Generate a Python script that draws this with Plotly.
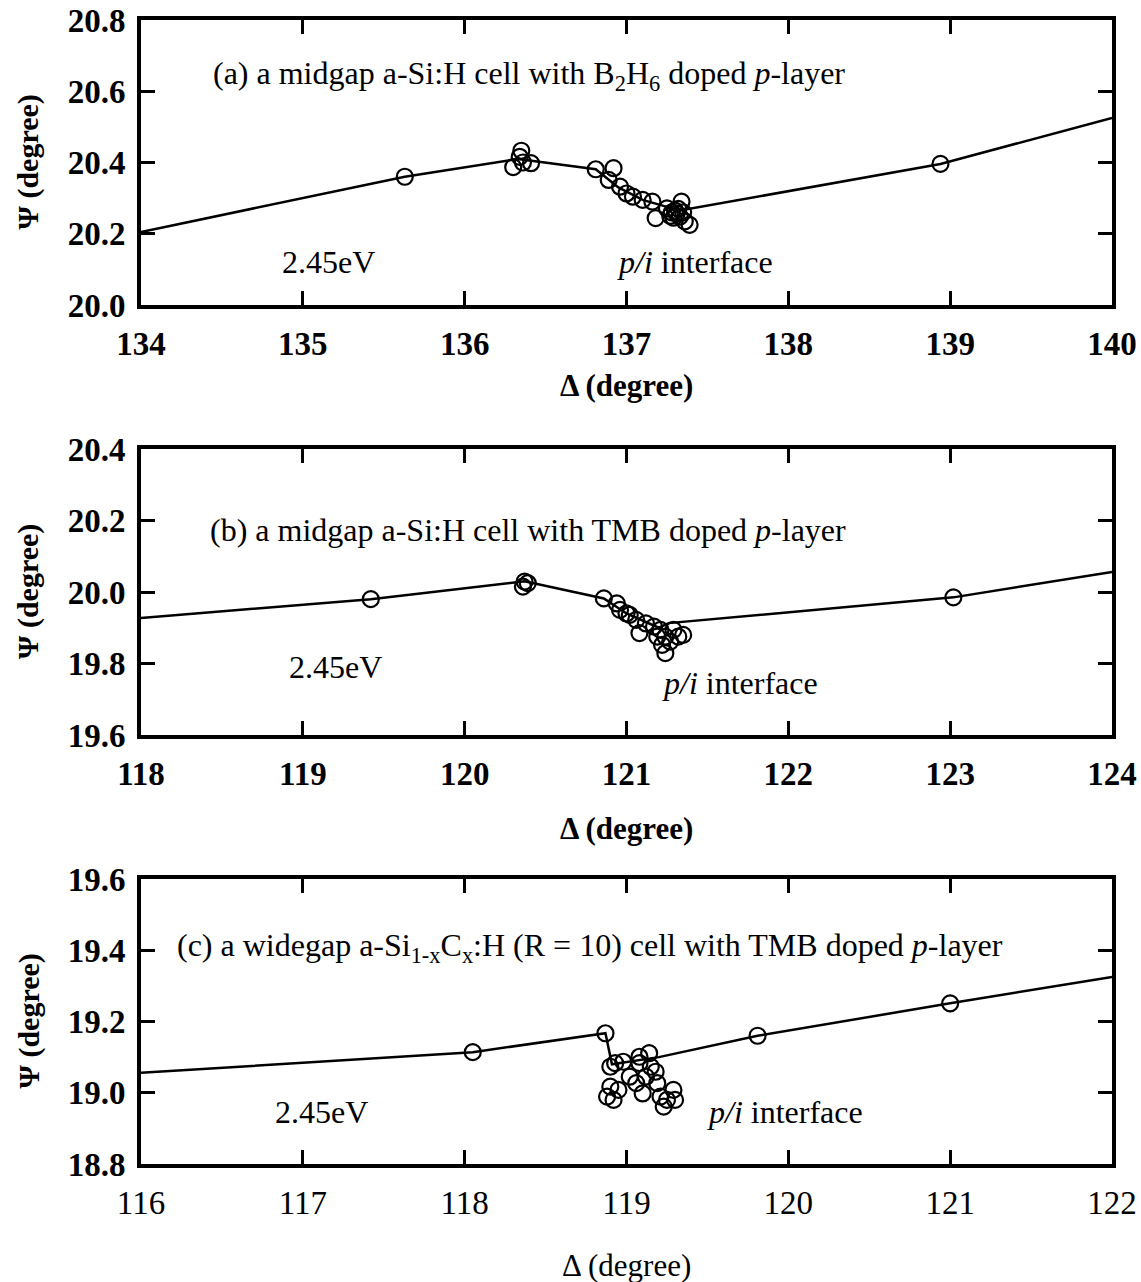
import plotly.graph_objects as go

W, H = 1141, 1282
SERIF = "Liberation Serif"

# ---- (a) midgap a-Si:H cell, B2H6-doped p-layer ----
a_path_x = [134.0, 135.63, 136.33, 136.81, 136.95, 137.10, 137.33, 138.94, 140.0]
a_path_y = [20.205, 20.36, 20.41, 20.381, 20.33, 20.295, 20.265, 20.396, 20.525]
a_pts_x = [135.63, 136.30, 136.34, 136.35, 136.36, 136.41, 136.81, 136.89, 136.92,
           136.96, 137.00, 137.04, 137.10, 137.16, 137.18, 137.25, 137.27, 137.28,
           137.29, 137.30, 137.31, 137.32, 137.33, 137.34, 137.35, 137.36, 137.39, 138.94]
a_pts_y = [20.36, 20.387, 20.416, 20.433, 20.40, 20.398, 20.381, 20.351, 20.384,
           20.332, 20.313, 20.304, 20.295, 20.29, 20.244, 20.271, 20.25, 20.26,
           20.245, 20.265, 20.257, 20.27, 20.248, 20.29, 20.26, 20.235, 20.225, 20.396]

# ---- (b) midgap a-Si:H cell, TMB-doped p-layer ----
b_path_x = [118.0, 119.42, 120.37, 120.86, 121.00, 121.20, 121.26, 123.02, 124.0]
b_path_y = [19.927, 19.98, 20.03, 19.982, 19.94, 19.90, 19.913, 19.985, 20.056]
b_pts_x = [119.42, 120.36, 120.37, 120.39, 120.86, 120.94, 120.96, 121.00, 121.02,
           121.06, 121.08, 121.12, 121.17, 121.19, 121.21, 121.22, 121.24, 121.24,
           121.27, 121.29, 121.32, 121.35, 123.02]
b_pts_y = [19.98, 20.015, 20.029, 20.025, 19.982, 19.968, 19.95, 19.94, 19.936,
           19.922, 19.885, 19.912, 19.903, 19.875, 19.894, 19.852, 19.875, 19.829,
           19.861, 19.894, 19.875, 19.88, 19.985]

# ---- (c) widegap a-Si1-xCx:H (R = 10) cell, TMB-doped p-layer ----
c_path_x = [116.0, 118.05, 118.87, 118.91, 119.20, 119.81, 121.00, 122.0]
c_path_y = [19.056, 19.114, 19.167, 19.08, 19.10, 19.16, 19.251, 19.325]
c_pts_x = [118.05, 118.87, 118.93, 118.90, 118.98, 118.90, 118.88, 118.92, 118.95,
           119.02, 119.06, 119.08, 119.08, 119.14, 119.15, 119.18, 119.12, 119.10,
           119.19, 119.21, 119.25, 119.29, 119.23, 119.30, 119.81, 121.00]
c_pts_y = [19.114, 19.167, 19.083, 19.073, 19.087, 19.017, 18.989, 18.98, 19.008,
           19.045, 19.027, 19.083, 19.101, 19.111, 19.073, 19.059, 19.045, 18.998,
           19.027, 18.989, 18.98, 19.008, 18.961, 18.98, 19.16, 19.251]

x_ranges = [(134, 140), (118, 124), (116, 122)]
y_ranges = [(20.0, 20.8), (19.6, 20.4), (18.8, 19.6)]
y_ticks = [[20.0, 20.2, 20.4, 20.6, 20.8],
           [19.6, 19.8, 20.0, 20.2, 20.4],
           [18.8, 19.0, 19.2, 19.4, 19.6]]

panel_titles = [
    "(a) a midgap a-Si:H cell with B<sub>2</sub>H<sub>6</sub> doped <i>p</i>-layer",
    "(b) a midgap a-Si:H cell with TMB doped <i>p</i>-layer",
    "(c) a widegap a-Si<sub>1-x</sub>C<sub>x</sub>:H (R = 10) cell with TMB doped <i>p</i>-layer",
]

# pixel boxes of the three frames: (left, top, right, bottom)
boxes = [(141, 20, 1112, 305), (141, 449, 1112, 735), (141, 879, 1112, 1164)]

paths = [(a_path_x, a_path_y), (b_path_x, b_path_y), (c_path_x, c_path_y)]
points = [(a_pts_x, a_pts_y), (b_pts_x, b_pts_y), (c_pts_x, c_pts_y)]

fig = go.Figure()
layout_axes = {}
annotations = []

# text placement inside each frame, as fractions of the frame
title_pos = [(0.072, 0.807), (0.069, 0.717), (0.035, 0.758)]
ev_pos = [(0.143, 0.151), (0.150, 0.238), (0.136, 0.182)]
pi_pos = [(0.488, 0.151), (0.535, 0.182), (0.581, 0.182)]
xtitle_y = [385, 828, 1265]
TXT = 32

for i in range(3):
    n = "" if i == 0 else str(i + 1)
    left, top, right, bottom = boxes[i]
    xdom = [left / W, right / W]
    ydom = [1 - bottom / H, 1 - top / H]
    xa, ya = "x" + n, "y" + n

    fig.add_trace(go.Scatter(
        x=paths[i][0], y=paths[i][1], mode="lines",
        line=dict(color="black", width=2.5),
        xaxis=xa, yaxis=ya, showlegend=False, hoverinfo="skip"))
    fig.add_trace(go.Scatter(
        x=points[i][0], y=points[i][1], mode="markers",
        marker=dict(symbol="circle-open", size=16, color="black",
                    line=dict(width=2.2, color="black")),
        xaxis=xa, yaxis=ya, showlegend=False))

    x0, x1 = x_ranges[i]
    layout_axes["xaxis" + n] = dict(
        domain=xdom, range=[x0, x1], anchor=ya,
        tickvals=list(range(x0, x1 + 1)), ticktext=[str(v) for v in range(x0, x1 + 1)],
        ticks="inside", ticklen=14, tickwidth=3, tickcolor="black",
        showline=True, linewidth=4, linecolor="black", mirror="ticks",
        showgrid=False, zeroline=False, automargin=False,
        ticklabelstandoff=6,
        tickfont=dict(family=SERIF, size=33, color="black",
                      weight="normal" if i == 2 else "bold"))
    layout_axes["yaxis" + n] = dict(
        domain=ydom, range=list(y_ranges[i]), anchor=xa,
        tickvals=y_ticks[i], ticktext=[f"{v:.1f}" for v in y_ticks[i]],
        ticks="inside", ticklen=14, tickwidth=3, tickcolor="black",
        showline=True, linewidth=4, linecolor="black", mirror="ticks",
        showgrid=False, zeroline=False, automargin=False,
        ticklabelstandoff=5,
        tickfont=dict(family=SERIF, size=33, color="black", weight="bold"))

    dom_x, dom_y = xa + " domain", ya + " domain"
    annotations.append(dict(
        text=panel_titles[i], xref=dom_x, yref=dom_y,
        x=title_pos[i][0], y=title_pos[i][1], xanchor="left", yanchor="middle",
        showarrow=False, font=dict(family=SERIF, size=TXT, color="black")))
    annotations.append(dict(
        text="2.45eV", xref=dom_x, yref=dom_y,
        x=ev_pos[i][0], y=ev_pos[i][1], xanchor="left", yanchor="middle",
        showarrow=False, font=dict(family=SERIF, size=TXT, color="black")))
    annotations.append(dict(
        text="<i>p/i</i> interface", xref=dom_x, yref=dom_y,
        x=pi_pos[i][0], y=pi_pos[i][1], xanchor="left", yanchor="middle",
        showarrow=False, font=dict(family=SERIF, size=TXT, color="black")))
    annotations.append(dict(
        text="Δ (degree)", xref="paper", yref="paper",
        x=(left + right) / 2 / W, y=1 - xtitle_y[i] / H,
        xanchor="center", yanchor="middle", showarrow=False,
        font=dict(family=SERIF, size=31, color="black",
                  weight="normal" if i == 2 else "bold")))
    annotations.append(dict(
        text="Ψ (degree)", xref="paper", yref="paper",
        x=28 / W, y=1 - (top + bottom) / 2 / H, textangle=-90,
        xanchor="center", yanchor="middle", showarrow=False,
        font=dict(family=SERIF, size=30, color="black", weight="bold")))

fig.update_layout(
    width=W, height=H,
    margin=dict(l=0, r=0, t=0, b=0),
    paper_bgcolor="white", plot_bgcolor="white",
    annotations=annotations,
    **layout_axes)

fig.write_html("out.html")
